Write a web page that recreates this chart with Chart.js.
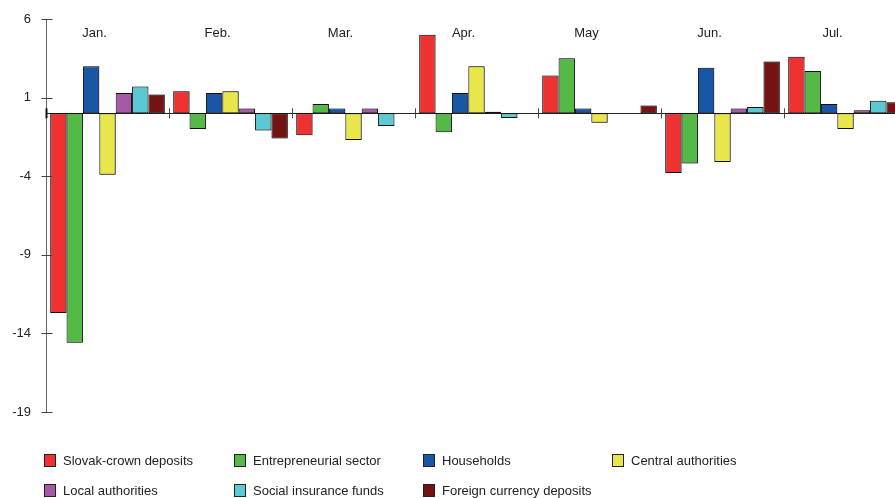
<!DOCTYPE html>
<html>
<head>
<meta charset="utf-8">
<script src="https://cdn.jsdelivr.net/npm/chart.js@4/dist/chart.umd.min.js"></script>
<style>
    html, body { margin: 0; padding: 0; background: #fff; }
    body { width: 895px; height: 498px; overflow: hidden; }
    canvas { display: block; }
</style>
</head>
<body>
<canvas id="chart" width="910" height="498"></canvas>
<script>
    // Data
    const months = ['Jan.', 'Feb.', 'Mar.', 'Apr.', 'May', 'Jun.', 'Jul.'];
    const yTicks = [6, 1, -4, -9, -14, -19];

    const slovakCrown   = [-12.7, 1.4, -1.4, 5.0, 2.4, -3.8, 3.6];
    const entrepreneur  = [-14.6, -1.0, 0.6, -1.2, 3.5, -3.2, 2.7];
    const households    = [3.0, 1.3, 0.3, 1.3, 0.3, 2.9, 0.6];
    const centralAuth   = [-3.9, 1.4, -1.7, 3.0, -0.6, -3.1, -1.0];
    const localAuth     = [1.3, 0.3, 0.3, 0.1, 0, 0.3, 0.2];
    const socialFunds   = [1.7, -1.1, -0.8, -0.3, 0, 0.4, 0.8];
    const foreignCurr   = [1.2, -1.6, 0, 0, 0.5, 3.3, 0.7];

    const FONT = 'Liberation Sans, Arial, sans-serif';

    function series(label, data, color) {
        return {
            label: label,
            data: data,
            backgroundColor: color,
            borderColor: '#111',
            borderWidth: 1,
            borderSkipped: false,
            categoryPercentage: 0.932,
            barPercentage: 1.0
        };
    }

    // soft grey edge around the bars, like the original export
    const barShadow = {
        id: 'barShadow',
        beforeDatasetsDraw(chart) {
            const ctx = chart.ctx;
            ctx.save();
            ctx.shadowColor = 'rgba(0,0,0,0.35)';
            ctx.shadowBlur = 1.5;
            ctx.shadowOffsetX = 1;
            ctx.shadowOffsetY = 0;
        },
        afterDatasetsDraw(chart) {
            chart.ctx.restore();
        }
    };

    // Month labels on top, crossing ticks on both axes, and the grid legend
    const extras = {
        id: 'extras',
        afterDraw(chart) {
            const ctx = chart.ctx;
            const x = chart.scales.x;
            const y = chart.scales.y;
            const y0 = y.getPixelForValue(0);
            const half = (x.getPixelForValue(1) - x.getPixelForValue(0)) / 2;

            ctx.save();
            ctx.strokeStyle = '#444';
            ctx.lineWidth = 1;
            // category boundary ticks across the zero line
            for (let i = 1; i < months.length; i++) {
                const px = Math.round(x.getPixelForValue(i) - half) + 0.5;
                ctx.beginPath();
                ctx.moveTo(px, y0 - 5);
                ctx.lineTo(px, y0 + 5);
                ctx.stroke();
            }
            // value ticks across the y axis
            const ax = Math.round(y.left + y.width) + 0.5;
            yTicks.forEach(v => {
                const py = Math.round(y.getPixelForValue(v)) + 0.5;
                ctx.beginPath();
                ctx.moveTo(ax - 5, py);
                ctx.lineTo(ax + 6, py);
                ctx.stroke();
            });
            // first tick on zero line is bold
            ctx.lineWidth = 2;
            ctx.strokeStyle = '#111';
            ctx.beginPath();
            ctx.moveTo(ax, y0 - 5);
            ctx.lineTo(ax, y0 + 5);
            ctx.stroke();

            // month names at the top
            ctx.fillStyle = '#222';
            ctx.font = '13px ' + FONT;
            ctx.textAlign = 'center';
            ctx.textBaseline = 'middle';
            months.forEach((m, i) => {
                ctx.fillText(m, x.getPixelForValue(i) - 13, 33);
            });

            // legend in 4 columns
            const cols = [44, 234, 423, 612];
            const rows = [461, 491];
            ctx.textAlign = 'left';
            ctx.lineWidth = 1;
            chart.data.datasets.forEach((ds, i) => {
                const cx = cols[i % 4];
                const cy = rows[Math.floor(i / 4)];
                ctx.fillStyle = ds.backgroundColor;
                ctx.fillRect(cx, cy - 7, 12, 13);
                ctx.strokeStyle = '#222';
                ctx.strokeRect(cx + 0.5, cy - 6.5, 11, 12);
                ctx.fillStyle = '#222';
                ctx.fillText(ds.label, cx + 19, cy);
            });
            ctx.restore();
        }
    };

    new Chart(document.getElementById('chart'), {
        type: 'bar',
        data: {
            labels: months,
            datasets: [
                series('Slovak-crown deposits', slovakCrown, '#ee3131'),
                series('Entrepreneurial sector', entrepreneur, '#55b947'),
                series('Households', households, '#1a56a6'),
                series('Central authorities', centralAuth, '#e8e64a'),
                series('Local authorities', localAuth, '#a45aa6'),
                series('Social insurance funds', socialFunds, '#5bc8d4'),
                series('Foreign currency deposits', foreignCurr, '#731314')
            ]
        },
        options: {
            responsive: false,
            animation: false,
            events: [],
            layout: { padding: { top: 19, right: 3, bottom: 86, left: 0 } },
            plugins: {
                legend: { display: false },
                tooltip: { enabled: false },
                title: { display: false }
            },
            scales: {
                x: {
                    position: { y: 0 },
                    grid: { display: false, drawTicks: false },
                    border: { display: true, color: '#222', width: 1 },
                    ticks: { display: false }
                },
                y: {
                    min: -19,
                    max: 6,
                    afterBuildTicks(scale) {
                        scale.ticks = yTicks.map(v => ({ value: v }));
                    },
                    afterFit(scale) {
                        scale.width = 46;
                        scale.paddingTop = 0;
                        scale.paddingBottom = 0;
                    },
                    grid: { display: false, drawTicks: false },
                    border: { display: true, color: '#666', width: 1 },
                    ticks: {
                        padding: 15,
                        color: '#222',
                        font: { family: FONT, size: 13 }
                    }
                }
            }
        },
        plugins: [barShadow, extras]
    });
</script>
</body>
</html>
